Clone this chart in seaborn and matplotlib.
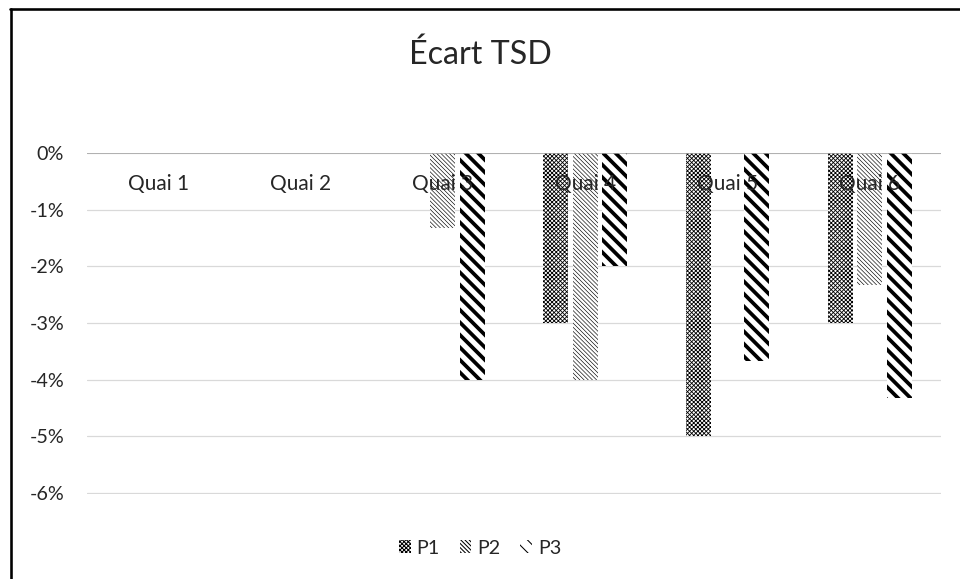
import numpy as np
import pandas as pd
import matplotlib.pyplot as plt
import matplotlib.patches as mpatches
import matplotlib.lines as mlines
import matplotlib.transforms as mtransforms
from matplotlib.ticker import FuncFormatter
import seaborn as sns

# donnees (ecart en %)
quais = ["Quai 1", "Quai 2", "Quai 3", "Quai 4", "Quai 5", "Quai 6"]
p1 = [0, 0, 0, -3.0, -5.0, -3.0]
p2 = [0, 0, -1.33, -4.0, 0, -2.33]
p3 = [0, 0, -4.0, -2.0, -3.67, -4.33]
series = ["P1", "P2", "P3"]
yticks = [0, -1, -2, -3, -4, -5, -6]

hatches = {"P1": "xxxxxx", "P2": "\\\\\\\\\\\\", "P3": "\\\\"}
hatch_lw = {"P1": 0.8, "P2": 0.6, "P3": 3.6}

df = pd.DataFrame({"quai": quais * 3,
                   "serie": [s for s in series for _ in quais],
                   "ecart": p1 + p2 + p3})

sns.set_style("white")
plt.rcParams['font.family'] = ['Lato', 'DejaVu Sans']
plt.rcParams['hatch.color'] = 'black'

fig = plt.figure(figsize=(12.8, 7.72), dpi=75)
ax = fig.add_axes([87 / 960, 1 - 494 / 579, (941 - 87) / 960, (494 - 153) / 579])

sns.barplot(data=df, x="quai", y="ecart", hue="serie", order=quais, hue_order=series,
            width=0.62, gap=0.15, palette=["white"] * 3,
            linewidth=0, edgecolor="black", legend=False, ax=ax)

# motifs de remplissage par serie
for cont, s in zip(ax.containers, series):
    for bar in cont:
        bar.set_hatch(hatches[s])
        bar.set_edgecolor("black")
        bar.set_linewidth(0)
        if hasattr(bar, "set_hatch_linewidth"):
            bar.set_hatch_linewidth(hatch_lw[s])

ax.set_ylim(-6.02, 0)
ax.set_xlim(-0.5, len(quais) - 0.5)
ax.set_yticks(yticks)
ax.yaxis.set_major_formatter(FuncFormatter(lambda v, p: f"{v:.0f}%"))
ax.tick_params(axis="y", length=0, pad=22, labelsize=19, labelcolor="#262626")
ax.set_xticks([])
ax.set_xlabel("")
ax.set_ylabel("")
ax.grid(axis="y", color="#d9d9d9", linewidth=1.2, zorder=0)
ax.set_axisbelow(True)
for sp in ax.spines.values():
    sp.set_visible(False)
ax.axhline(0, color="#a6a6a6", linewidth=1.5, zorder=1)

# etiquettes de categories a cote de l'axe
trans = mtransforms.blended_transform_factory(ax.transData, ax.transData)
for i, q in enumerate(quais):
    ax.text(i, -0.55, q, ha="center", va="center", fontsize=20, color="#262626",
            transform=trans, zorder=5)

fig.suptitle("Écart TSD", y=1 - 55 / 579, va="center", fontsize=31, color="#262626")

handles = []
for s in series:
    h = mpatches.Patch(facecolor="white", edgecolor="black", linewidth=0, hatch=hatches[s], label=s)
    handles.append(h)
leg = fig.legend(handles=handles, loc="center", bbox_to_anchor=(0.5, 1 - 548 / 579), ncol=3,
                 frameon=False, fontsize=19, handlelength=0.6, handleheight=0.6,
                 handletextpad=0.3, columnspacing=1.0)
for t in leg.get_texts():
    t.set_color("#262626")

# bordure noire (haut et gauche)
fig.add_artist(mlines.Line2D([10 / 960, 1], [1 - 9 / 579, 1 - 9 / 579], color="black", linewidth=2.5,
                             transform=fig.transFigure))
fig.add_artist(mlines.Line2D([11 / 960, 11 / 960], [0, 1 - 9 / 579], color="black", linewidth=2.5,
                             transform=fig.transFigure))

fig.savefig("out.png", dpi=75, facecolor="white")
